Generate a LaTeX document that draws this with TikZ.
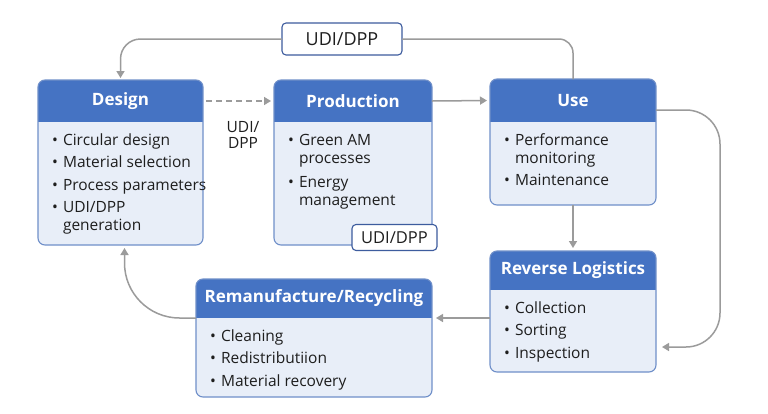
\documentclass[tikz,border=0pt]{standalone}
\usepackage{fontspec}
\setmainfont{Open Sans}
\usetikzlibrary{arrows.meta,calc}
\definecolor{hdrblue}{HTML}{4573C3}
\definecolor{bodyblue}{HTML}{E8EEF8}
\definecolor{bordblue}{HTML}{6F8FC9}
\definecolor{tagblue}{HTML}{3D5C9E}
\definecolor{arrgray}{HTML}{9B9B9B}
\definecolor{txtcol}{HTML}{1E1E1E}
\tikzset{
  boxbody/.style={rectangle, fill=bodyblue, rounded corners=7pt, inner sep=0pt, outer sep=0pt},
  hdrtext/.style={rectangle, inner sep=0pt, outer sep=0pt, text=white, font=\fontsize{17}{20}\selectfont\bfseries},
  tagbox/.style={rectangle, draw=tagblue, fill=white, line width=1.1pt, rounded corners=4pt, inner sep=0pt, outer sep=0pt, text=txtcol},
  conn/.style={draw=arrgray, line width=1.5pt},
  arr/.style={conn, -{Triangle[width=8pt,length=7pt]}},
  lbl/.style={inner sep=0pt, text=txtcol, font=\fontsize{15.5}{16}\selectfont, align=center}
}
\newcommand\blist[1]{{\fontsize{15.5}{18}\selectfont\color{txtcol}\begin{tabular}[t]{@{}l@{\hspace{5pt}}l@{}}#1\end{tabular}}}
\newcommand\cbox[8]{%
  \node[boxbody, minimum width={(#4-#2)*1pt}, minimum height={(#5-#3)*1pt}] (#1) at ({(#2+#4)/2},{(#3+#5)/2}) {};
  \begin{scope}
    \clip[rounded corners=7pt] (#1.south west) rectangle (#1.north east);
    \fill[hdrblue] (#1.north west) rectangle ($(#1.north east)+(0,#6)$);
  \end{scope}
  \draw[bordblue, line width=1.1pt, rounded corners=7pt] (#1.south west) rectangle (#1.north east);
  \node[hdrtext, minimum width={(#4-#2)*1pt}, minimum height={#6*1pt}, anchor=north] (#1H) at (#1.north) {\raisebox{-2pt}{#7}};
  \node[anchor=base west, inner sep=0pt] (#1T) at ($(#1.north west)+(14,#6+23)$) {\blist{#8}};
}
\begin{document}
\begin{tikzpicture}[x=1pt,y=-1pt]
\fill[white] (0,0) rectangle (768,413);
\useasboundingbox (0,0) rectangle (768,413);

\cbox{design}{38}{80}{203}{245}{42}{Design}{%
  \textbullet & Circular design\\[4.5pt]
  \textbullet & Material selection\\[4.5pt]
  \textbullet & Process parameters\\[4.5pt]
  \textbullet & UDI/DPP\\
              & generation}
\cbox{production}{274}{80}{432}{245}{42}{Production}{%
  \textbullet & Green AM\\
              & processes\\[6pt]
  \textbullet & Energy\\
              & management}
\cbox{use}{490}{79}{656}{205}{43}{Use}{%
  \textbullet & Performance\\
              & monitoring\\[4pt]
  \textbullet & Maintenance}
\cbox{reverse}{490}{251}{656}{372}{39}{Reverse Logistics}{%
  \textbullet & Collection\\[4.5pt]
  \textbullet & Sorting\\[4.5pt]
  \textbullet & Inspection}
\cbox{reman}{196}{279}{432}{397}{39}{Remanufacture/Recycling}{%
  \textbullet & Cleaning\\[4.5pt]
  \textbullet & Redistributiion\\[4.5pt]
  \textbullet & Material recovery}

\node[tagbox, minimum width=120pt, minimum height=32pt, font=\fontsize{18}{20}\selectfont] (udi) at (342,39) {UDI/DPP};
\node[tagbox, minimum width=85pt, minimum height=26pt, font=\fontsize{16.5}{18}\selectfont] (ptag) at (394.5,237.5) {UDI/DPP};
\node[lbl] (dlbl) at (243,135) {UDI/\\DPP};

% connectors
\draw[conn, rounded corners=14pt] (use.north) |- (udi.east);
\draw[arr, rounded corners=20pt, shorten >=2pt] (udi.west) -| (design.north);
\draw[arr, dashed, dash pattern=on 6pt off 4pt, shorten <=3pt, shorten >=3pt] (designH.east) -- (productionH.west);
\draw[arr, shorten >=3pt] (productionH.east) -- (useH.west);
\draw[arr, shorten >=3pt] (use.south) -- (reverse.north);
\draw[arr, rounded corners=34pt] ($(use.north east)+(0,31)$) -- ++(64,0) |- ($(reverse.east)+(6,35.5)$);
\draw[arr, shorten >=4pt] (reverse.west |- remanH.south) -- (remanH.south east);
\draw[arr, rounded corners=55pt, shorten >=3pt] (remanH.south west) -| ($(design.south)+(4,0)$);
\end{tikzpicture}
\end{document}
